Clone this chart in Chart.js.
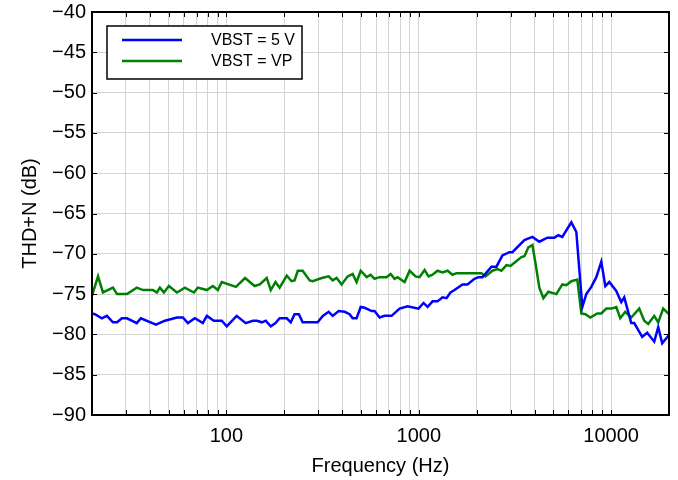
<!DOCTYPE html>
<html>
<head>
<meta charset="utf-8">
<script src="https://cdn.jsdelivr.net/npm/chart.js@4.4.1/dist/chart.umd.min.js"></script>
<style>
  html, body { margin: 0; padding: 0; background: #fff; }
  #wrap { width: 678px; height: 480px; }
</style>
</head>
<body>
<div id="wrap"><canvas id="thdChart" width="678" height="480"></canvas></div>
<script>
// --- data ---
const freq5V = [20, 20.7, 22.5, 23.9, 25.7, 27, 28.6, 30.4, 34.2, 35.9, 43, 47.9, 55.3, 59.4, 63, 68.5, 75.4, 79.1, 86, 94.6,
  100.4, 113, 126, 137, 144, 153, 160, 170, 180, 189, 206, 216, 226, 238, 249, 298, 317, 340, 357, 383,
  412, 437, 453, 475, 499, 523, 569, 589, 626, 664, 722, 795, 875, 997, 1059, 1111, 1179, 1252, 1329, 1394,
  1462, 1534, 1688, 1792, 1948, 2044, 2144, 2388, 2534, 2722, 2960, 3068, 3542, 3898, 4236, 4662, 5070, 5318, 5576, 6212,
  6596, 7086, 7430, 7890, 8376, 8892, 9330, 9784, 10638, 11294, 11704, 12724, 13190, 14510, 15410, 16756, 17580, 18436, 19808, 20000];
const thd5V = [-77.4, -77.5, -78, -77.7, -78.5, -78.5, -78, -78, -78.6, -78, -78.8, -78.3, -77.9, -77.9, -78.6, -78, -78.6, -77.7, -78.3, -78.3,
  -79, -77.7, -78.6, -78.3, -78.3, -78.5, -78.3, -79, -78.6, -78, -78, -78.5, -77.5, -77.5, -78.5, -78.5, -77.7, -77.2, -77.7, -77.1,
  -77.2, -77.5, -78, -78, -76.6, -76.7, -77.1, -77.1, -77.9, -77.7, -77.7, -76.8, -76.5, -76.8, -76.1, -76.6, -75.9, -75.9, -75.4, -75.5,
  -74.8, -74.5, -73.8, -73.8, -73.1, -72.9, -72.9, -71.6, -71.6, -70.2, -69.8, -69.8, -68.3, -67.9, -68.5, -68, -68, -67.7, -67.9, -66.1,
  -67.3, -76.6, -75, -74.1, -72.9, -71, -74, -73.5, -74.6, -76, -75.4, -78.6, -78.6, -80.3, -79.8, -80.9, -79.1, -81.1, -80.2, -80];

const freqVP = [20, 21.5, 22.8, 25.7, 27, 30.4, 34.2, 36.8, 41.5, 43.5, 45.1, 47.3, 50.2, 55.3, 60.8, 67.7, 71, 79.1, 85, 90.2,
  94.6, 112, 125, 140, 149, 162, 170, 180, 189, 206, 218, 226, 235, 249, 271, 281, 313, 340, 357, 374,
  397, 427, 453, 475, 499, 536, 562, 589, 626, 680, 714, 749, 776, 844, 896, 962, 1009, 1072, 1124, 1179,
  1252, 1329, 1411, 1498, 1571, 1835, 2118, 2222, 2416, 2565, 2690, 2856, 2996, 3142, 3418, 3542, 3716, 3898, 4040, 4236,
  4446, 4718, 5192, 5576, 5850, 6212, 6674, 7002, 7346, 7796, 8478, 8892, 9442, 10022, 10638, 11158, 11844, 12724, 14002, 14866,
  15596, 16756, 17580, 18656, 19808, 20000];
const thdVP = [-75.2, -72.8, -74.8, -74.2, -75, -75, -74.2, -74.5, -74.5, -74.8, -74.2, -74.8, -74, -74.8, -74.2, -74.8, -74.2, -74.5, -74, -74.5,
  -73.5, -74.1, -73, -74, -73.8, -73, -74.5, -73.5, -74.2, -72.7, -73.4, -73.3, -72.1, -72.1, -73.3, -73.4, -73, -72.8, -73.3, -73,
  -73.8, -72.8, -72.5, -73.5, -72.1, -72.9, -72.6, -73.1, -72.9, -72.9, -72.5, -73.1, -72.9, -73.5, -72.1, -72.8, -72.9, -72, -72.8, -72.6,
  -72.1, -72.3, -72.1, -72.6, -72.4, -72.4, -72.4, -72.8, -72.1, -71.9, -72.1, -71.4, -71.5, -71.1, -70.4, -70.3, -69.2, -68.9, -71.1, -74.2,
  -75.5, -74.7, -75, -73.8, -73.9, -73.4, -73.2, -77.4, -77.5, -77.9, -77.4, -77.4, -76.8, -76.8, -76.6, -78, -77.2, -77.9, -76.8, -78.3,
  -78.7, -77.7, -78.5, -76.8, -77.4, -77.2];

const seriesLabels = ['VBST = 5 V', 'VBST = VP'];
const xGridTicks = [20, 30, 40, 50, 60, 70, 80, 90,
  100, 200, 300, 400, 500, 600, 700, 800, 900,
  1000, 2000, 3000, 4000, 5000, 6000, 7000, 8000, 9000,
  10000, 20000];
const xLabelTicks = [100, 1000, 10000];
const yMin = -90, yMax = -40, yStep = 5;

const toPoints = (xs, ys) => xs.map((x, i) => ({ x: x, y: ys[i] }));

// box + inward tick marks + legend
const framePlugin = {
    id: 'frame',
    afterDraw(chart) {
        const { ctx, chartArea: a, scales } = chart;
        const tl = 5;
        ctx.save();
        ctx.strokeStyle = '#000';
        ctx.lineWidth = 1;
        scales.x.ticks.forEach(t => {
            const px = Math.round(scales.x.getPixelForValue(t.value)) + 0.5;
            ctx.beginPath();
            ctx.moveTo(px, a.bottom); ctx.lineTo(px, a.bottom - tl);
            ctx.moveTo(px, a.top); ctx.lineTo(px, a.top + tl);
            ctx.stroke();
        });
        scales.y.ticks.forEach(t => {
            const py = Math.round(scales.y.getPixelForValue(t.value)) + 0.5;
            ctx.beginPath();
            ctx.moveTo(a.left, py); ctx.lineTo(a.left + tl, py);
            ctx.moveTo(a.right, py); ctx.lineTo(a.right - tl, py);
            ctx.stroke();
        });
        ctx.lineWidth = 2;
        ctx.strokeRect(a.left, a.top, a.right - a.left, a.bottom - a.top);

        // legend box
        const bx = 107, by = 26, bw = 195, bh = 53;
        ctx.fillStyle = '#fff';
        ctx.fillRect(bx, by, bw, bh);
        ctx.lineWidth = 1.5;
        ctx.strokeStyle = '#000';
        ctx.strokeRect(bx, by, bw, bh);
        ctx.font = '16px "Liberation Sans", Arial, sans-serif';
        ctx.textBaseline = 'middle';
        ctx.textAlign = 'left';
        chart.data.datasets.forEach((ds, i) => {
            const ly = 40 + i * 21;
            ctx.strokeStyle = ds.borderColor;
            ctx.lineWidth = 2.5;
            ctx.beginPath();
            ctx.moveTo(122, ly); ctx.lineTo(182, ly);
            ctx.stroke();
            ctx.fillStyle = '#000';
            ctx.fillText(ds.label, 211, ly + 1);
        });
        ctx.restore();
    }
};

const axisFont = { family: '"Liberation Sans", Arial, sans-serif', size: 20 };

new Chart(document.getElementById('thdChart'), {
    type: 'line',
    data: {
        datasets: [{
            label: seriesLabels[0],
            data: toPoints(freq5V, thd5V),
            borderColor: '#0000ff',
            borderWidth: 2.5,
            pointRadius: 0,
            tension: 0,
            fill: false
        }, {
            label: seriesLabels[1],
            data: toPoints(freqVP, thdVP),
            borderColor: '#008000',
            borderWidth: 2.5,
            pointRadius: 0,
            tension: 0,
            fill: false
        }]
    },
    options: {
        responsive: false,
        animation: false,
        events: [],
        layout: { padding: { top: 0, right: 8, left: 0, bottom: 0 } },
        plugins: {
            legend: { display: false },
            tooltip: { enabled: false }
        },
        scales: {
            x: {
                type: 'logarithmic',
                min: 20,
                max: 20000,
                afterBuildTicks: scale => {
                    scale.ticks = xGridTicks.map(v => ({ value: v }));
                },
                afterFit: scale => { scale.height = 65; },
                grid: { color: '#d4d4d4', lineWidth: 1, drawTicks: false },
                border: { display: false },
                ticks: {
                    autoSkip: false,
                    maxRotation: 0,
                    minRotation: 0,
                    padding: 9,
                    color: '#000',
                    font: axisFont,
                    callback: v => xLabelTicks.includes(v) ? String(v) : ''
                },
                title: {
                    display: true,
                    text: 'Frequency (Hz)',
                    color: '#000',
                    font: axisFont,
                    padding: { top: 0, bottom: 2 }
                }
            },
            y: {
                min: yMin,
                max: yMax,
                afterFit: scale => {
                    scale.width = 92;
                    scale.paddingTop = 12;
                    scale.paddingBottom = 0;
                },
                grid: { color: '#d4d4d4', lineWidth: 1, drawTicks: false },
                border: { display: false },
                ticks: {
                    stepSize: yStep,
                    padding: 6,
                    color: '#000',
                    font: axisFont,
                    callback: v => String(v).replace('-', '\u2212')
                },
                title: {
                    display: true,
                    text: 'THD+N (dB)',
                    color: '#000',
                    font: axisFont,
                    padding: { top: 18, bottom: 0 }
                }
            }
        }
    },
    plugins: [framePlugin]
});
</script>
</body>
</html>
